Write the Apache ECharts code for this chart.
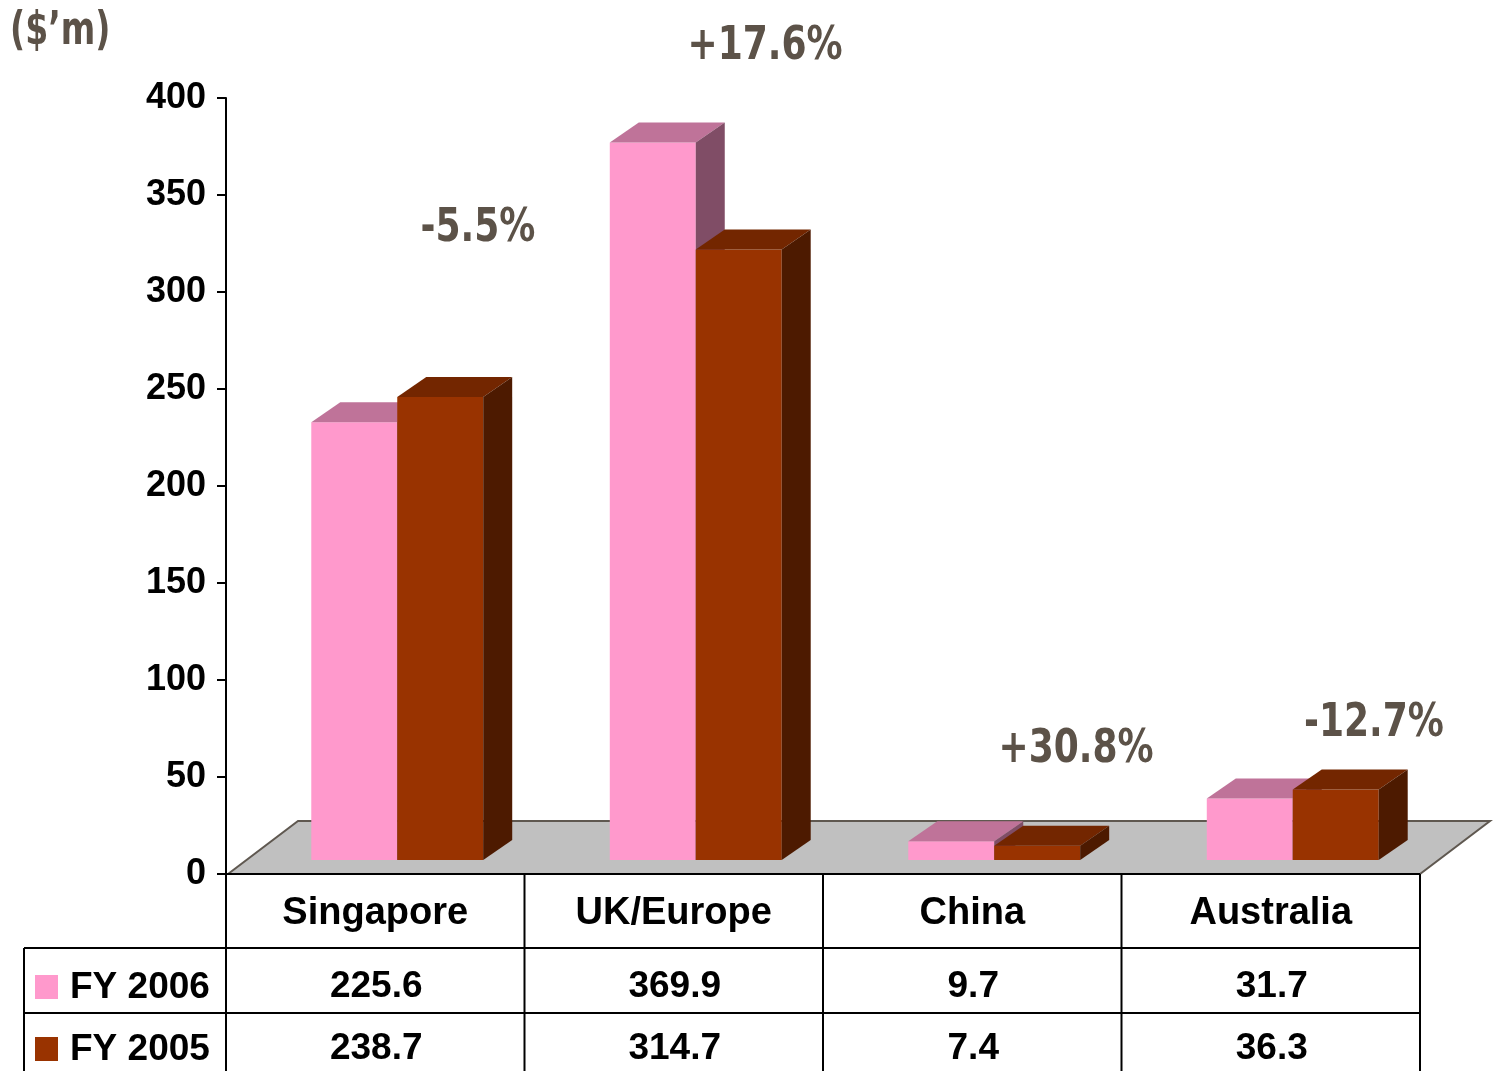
<!DOCTYPE html>
<html>
<head>
<meta charset="utf-8">
<script src="https://cdn.jsdelivr.net/npm/echarts@6/dist/echarts.min.js"></script>
<style>html,body{margin:0;padding:0;background:#fff}#c{width:1493px;height:1071px}</style>
</head>
<body>
<div id="c"></div>
<script>
const categories = ['Singapore', 'UK/Europe', 'China', 'Australia'];
const fy2006 = [225.6, 369.9, 9.7, 31.7];
const fy2005 = [238.7, 314.7, 7.4, 36.3];
const seriesNames = ['FY 2006', 'FY 2005'];
const changeLabels = ['-5.5%', '+17.6%', '+30.8%', '-12.7%'];
const unitLabel = "($\u2019m)";

const faceColors = [
  { front: '#FF99CC', top: '#BF7399', side: '#804D66' },
  { front: '#993300', top: '#732600', side: '#4D1A00' }
];
const SHIFT_X = 22, SHIFT_Y = -14, DEPTH_X = 29, DEPTH_Y = -20;

function makeRender(s) {
  return function (params, api) {
    const cat = api.value(0);
    const val = api.value(1);
    const top = api.coord([cat, val]);
    const base = api.coord([cat, 0]);
    const band = api.size([1, 0])[0];
    const bw = band * 0.288;
    const cx = base[0] + SHIFT_X;
    const x0 = s === 0 ? cx - bw : cx;
    const x1 = x0 + bw;
    const yb = base[1] + SHIFT_Y;
    const yt = top[1] + SHIFT_Y;
    const c = faceColors[s];
    return {
      type: 'group',
      children: [
        { type: 'rect', shape: { x: x0, y: yt, width: bw, height: yb - yt }, style: { fill: c.front } },
        { type: 'polygon', shape: { points: [[x0, yt], [x0 + DEPTH_X, yt + DEPTH_Y], [x1 + DEPTH_X, yt + DEPTH_Y], [x1, yt]] }, style: { fill: c.top } },
        { type: 'polygon', shape: { points: [[x1, yt], [x1 + DEPTH_X, yt + DEPTH_Y], [x1 + DEPTH_X, yb + DEPTH_Y], [x1, yb]] }, style: { fill: c.side } }
      ]
    };
  };
}

const chart = echarts.init(document.getElementById('c'), null, { renderer: 'canvas' });
const option = {
  animation: false,
  backgroundColor: '#ffffff',
  grid: { left: 226, right: 73, top: 98, bottom: 197 },
  xAxis: {
    type: 'category',
    data: categories,
    boundaryGap: true,
    axisLine: { show: false },
    axisTick: { show: false },
    axisLabel: { show: true, margin: 21, fontSize: 38, fontWeight: 'bold', color: '#000', fontFamily: 'Liberation Sans, Arial, sans-serif' },
    splitLine: { show: false }
  },
  yAxis: {
    type: 'value',
    min: 0, max: 400, interval: 50,
    axisLine: { show: true, lineStyle: { color: '#000', width: 2 } },
    axisTick: { show: true, length: 9, lineStyle: { color: '#000', width: 2 } },
    axisLabel: { margin: 20, fontSize: 36, fontWeight: 'bold', color: '#000', fontFamily: 'Liberation Sans, Arial, sans-serif' },
    splitLine: { show: false }
  },
  series: [
    { type: 'custom', name: seriesNames[0], z: 5, renderItem: makeRender(0), encode: { x: 0, y: 1 }, data: categories.map((c, i) => [i, fy2006[i]]) },
    { type: 'custom', name: seriesNames[1], z: 6, renderItem: makeRender(1), encode: { x: 0, y: 1 }, data: categories.map((c, i) => [i, fy2005[i]]) }
  ]
};
chart.setOption(option);

// Build floor and table from axis pixel positions
const y0 = chart.convertToPixel({ yAxisIndex: 0 }, 0);
const centers = categories.map((c, i) => chart.convertToPixel({ xAxisIndex: 0 }, i));
const band = centers.length > 1 ? centers[1] - centers[0] : 298;
const leftX = centers[0] - band / 2;
const rightX = centers[centers.length - 1] + band / 2;
const FLOOR_DX = 70, FLOOR_DY = -53;
const rowTop1 = y0 + 74, rowTop2 = y0 + 139, tableBottom = 1080;
const lineStyle = { stroke: '#000', lineWidth: 2 };
const fontTable = 'bold 37px "Liberation Sans", Arial, sans-serif';
const pctFont = 'bold 46px "DejaVu Sans Condensed", "DejaVu Sans", sans-serif';
const pctColor = '#5C5248';
const pctPos = [[478, 229], [765, 47], [1076, 750], [1374, 724]];

const g = [];
g.push({ type: 'polygon', z: 0, shape: { points: [[leftX + 2, y0], [leftX + 2 + FLOOR_DX, y0 + FLOOR_DY], [rightX + FLOOR_DX, y0 + FLOOR_DY], [rightX, y0]] }, style: { fill: '#C0C0C0', stroke: '#5F5850', lineWidth: 2 } });
// table lines
g.push({ type: 'line', z: 10, shape: { x1: leftX, y1: y0, x2: rightX, y2: y0 }, style: lineStyle });
g.push({ type: 'line', z: 10, shape: { x1: 24, y1: rowTop1, x2: rightX, y2: rowTop1 }, style: lineStyle });
g.push({ type: 'line', z: 10, shape: { x1: 24, y1: rowTop2, x2: rightX, y2: rowTop2 }, style: lineStyle });
g.push({ type: 'line', z: 10, shape: { x1: 24, y1: rowTop1, x2: 24, y2: tableBottom }, style: lineStyle });
for (let i = 0; i <= categories.length; i++) {
  const x = leftX + i * band;
  g.push({ type: 'line', z: 10, shape: { x1: x, y1: y0, x2: x, y2: tableBottom }, style: lineStyle });
}
// values
[fy2006, fy2005].forEach((arr, r) => {
  const yc = r === 0 ? rowTop1 + 39 : rowTop2 + 36;
  arr.forEach((v, i) => {
    g.push({ type: 'text', z: 10, x: centers[i] + 1, y: yc, style: { text: v.toFixed(1), font: fontTable, fill: '#000', align: 'center', verticalAlign: 'middle' } });
  });
  g.push({ type: 'rect', z: 10, shape: { x: 35, y: yc - 12, width: 23, height: 24 }, style: { fill: faceColors[r].front } });
  g.push({ type: 'text', z: 10, x: 70, y: yc + 1, style: { text: seriesNames[r], font: fontTable, fill: '#000', align: 'left', verticalAlign: 'middle' } });
});
// percent labels
changeLabels.forEach((t, i) => {
  g.push({ type: 'text', z: 10, x: pctPos[i][0], y: pctPos[i][1], scaleX: 0.87, style: { text: t, font: pctFont, fill: pctColor, align: 'center', verticalAlign: 'middle' } });
});
g.push({ type: 'text', z: 10, x: 10, y: 32, scaleX: 0.8, style: { text: unitLabel, font: pctFont, fill: pctColor, align: 'left', verticalAlign: 'middle' } });

chart.setOption({ graphic: { elements: g } });
</script>
</body>
</html>
